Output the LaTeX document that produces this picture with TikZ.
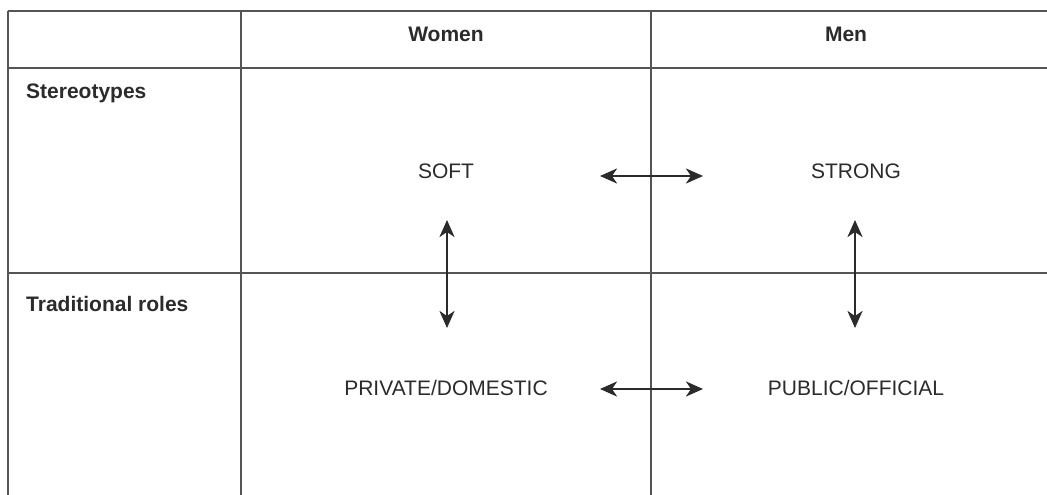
\documentclass[tikz,border=0pt]{standalone}
\usepackage{fontspec}
\setmainfont{Liberation Sans}
\usetikzlibrary{arrows.meta}
\definecolor{gridc}{HTML}{555555}
\definecolor{txtc}{HTML}{2B2B2B}
\tikzset{
  gridline/.style={draw=gridc, line width=1.5pt},
  headtxt/.style={font=\fontsize{21}{24}\selectfont\bfseries, text=txtc, inner sep=0pt, anchor=base},
  rowtxt/.style={font=\fontsize{21}{24}\selectfont\bfseries, text=txtc, inner sep=0pt, anchor=base west},
  celltxt/.style={font=\fontsize{21}{24}\selectfont, text=txtc, inner sep=0pt, anchor=base},
  dblarrow/.style={line width=2.6pt, draw=txtc, {Stealth[length=17pt,width=15pt,inset=5pt]}-{Stealth[length=17pt,width=15pt,inset=5pt]}}
}
\begin{document}
\begin{tikzpicture}[x=1pt,y=-1pt]
\useasboundingbox (0,0) rectangle (1047,495);
% grid
\coordinate (tl) at (8,11);
\coordinate (tr) at (1047,11);
\coordinate (hl) at (8,68);
\coordinate (hr) at (1047,68);
\coordinate (ml) at (8,273);
\coordinate (mr) at (1047,273);
\coordinate (b0) at (8,495);
\coordinate (c1t) at (241,11);
\coordinate (c1b) at (241,495);
\coordinate (c2t) at (651,11);
\coordinate (c2b) at (651,495);
\draw[gridline] (tl) -- (tr);
\draw[gridline] (hl) -- (hr);
\draw[gridline] (ml) -- (mr);
\draw[gridline] (tl) -- (b0);
\draw[gridline] (c1t) -- (c1b);
\draw[gridline] (c2t) -- (c2b);
% headers
\node[headtxt] (women) at (446,42) {Women};
\node[headtxt] (men) at (846,42) {Men};
\node[rowtxt] (stereo) at (26,99) {Stereotypes};
\node[rowtxt] (trad) at (26,311) {Traditional roles};
% cells
\node[celltxt] (soft) at (446,178) {SOFT};
\node[celltxt] (strong) at (856,178) {STRONG};
\node[celltxt] (priv) at (446,395) {PRIVATE/DOMESTIC};
\node[celltxt] (pub) at (856,395) {PUBLIC/OFFICIAL};
% arrows
\coordinate (a1l) at (600,176);
\coordinate (a1r) at (703,176);
\coordinate (a2l) at (600,389);
\coordinate (a2r) at (703,389);
\coordinate (v1t) at (447,220);
\coordinate (v1b) at (447,328);
\coordinate (v2t) at (855,220);
\coordinate (v2b) at (855,328);
\draw[dblarrow] (a1l) -- (a1r);
\draw[dblarrow] (a2l) -- (a2r);
\draw[dblarrow] (v1t) -- (v1b);
\draw[dblarrow] (v2t) -- (v2b);
\end{tikzpicture}
\end{document}
